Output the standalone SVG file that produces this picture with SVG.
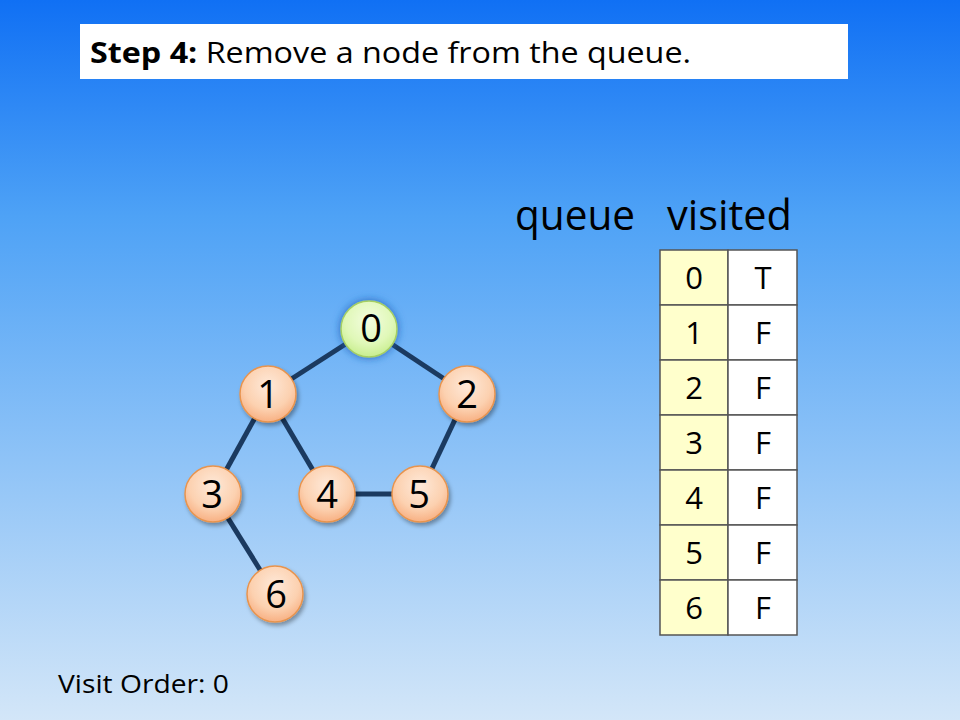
<svg xmlns="http://www.w3.org/2000/svg" width="960" height="720" viewBox="0 0 960 720">
<defs>
<linearGradient id="bg" x1="0" y1="0" x2="0" y2="1">
<stop offset="0" stop-color="#1070f4"/>
<stop offset="0.3" stop-color="#4ea2f6"/>
<stop offset="1" stop-color="#d3e6f8"/>
</linearGradient>
<radialGradient id="orange" cx="0.5" cy="0.35" r="0.7">
<stop offset="0" stop-color="#fee9d9"/>
<stop offset="0.6" stop-color="#fcd1b0"/>
<stop offset="1" stop-color="#f7a979"/>
</radialGradient>
<radialGradient id="green" cx="0.5" cy="0.35" r="0.7">
<stop offset="0" stop-color="#f3fde0"/>
<stop offset="0.6" stop-color="#e0f8b8"/>
<stop offset="1" stop-color="#c3ec86"/>
</radialGradient>
<filter id="shadow" x="-30%" y="-30%" width="160%" height="160%">
<feDropShadow dx="2" dy="3" stdDeviation="2" flood-color="#000" flood-opacity="0.35"/>
</filter>
<filter id="glow" x="-40%" y="-40%" width="180%" height="180%">
<feDropShadow dx="0" dy="0" stdDeviation="4" flood-color="#1f5fb8" flood-opacity="0.9"/>
</filter>
</defs>
<style>
.t{font-family:"Open Sans","Liberation Sans",sans-serif;fill:#000}
.edge{stroke:#1b3a60;stroke-width:5;stroke-linecap:butt}
.node{fill:url(#orange);stroke:#e8944e;stroke-width:1.5;filter:url(#shadow)}
.cur{fill:url(#green);stroke:#a5cf62;stroke-width:1.5;filter:url(#glow)}
.lbl{font-size:38px;text-anchor:middle}
.cell{stroke:#555;stroke-width:1.5}
.ct{font-size:31px;text-anchor:middle}
</style>
<rect x="0" y="0" width="960" height="720" fill="url(#bg)"/>
<g id="title">
<rect x="80" y="24" width="768" height="55" fill="#fff"/>
<text class="t" x="90" y="63" font-size="29" textLength="601" lengthAdjust="spacingAndGlyphs"><tspan font-weight="bold">Step 4:</tspan> Remove a node from the queue.</text>
</g>
<g id="connectors">
<line class="edge" x1="369" y1="329" x2="268" y2="394"/>
<line class="edge" x1="369" y1="329" x2="467" y2="394"/>
<line class="edge" x1="268" y1="394" x2="213" y2="494"/>
<line class="edge" x1="268" y1="394" x2="327" y2="494"/>
<line class="edge" x1="467" y1="394" x2="420" y2="494"/>
<line class="edge" x1="327" y1="494" x2="420" y2="494"/>
<line class="edge" x1="213" y1="494" x2="275" y2="594"/>
</g>
<g id="node0"><circle class="cur" cx="369" cy="329" r="28"/><text class="t lbl" x="371" y="342">0</text></g>
<g id="node1"><circle class="node" cx="268" cy="394" r="28"/><text class="t lbl" x="268" y="408">1</text></g>
<g id="node2"><circle class="node" cx="467" cy="394" r="28"/><text class="t lbl" x="467" y="408">2</text></g>
<g id="node3"><circle class="node" cx="213" cy="494" r="28"/><text class="t lbl" x="212" y="508">3</text></g>
<g id="node4"><circle class="node" cx="327" cy="494" r="28"/><text class="t lbl" x="327" y="508">4</text></g>
<g id="node5"><circle class="node" cx="420" cy="494" r="28"/><text class="t lbl" x="419" y="508">5</text></g>
<g id="node6"><circle class="node" cx="275" cy="594" r="28"/><text class="t lbl" x="276" y="608">6</text></g>
<g id="headers">
<text class="t" x="515" y="230" font-size="42" textLength="120" lengthAdjust="spacingAndGlyphs">queue</text>
<text class="t" x="667" y="230" font-size="42" textLength="125" lengthAdjust="spacingAndGlyphs">visited</text>
</g>
<g id="table">
<rect class="cell" x="660" y="250" width="68" height="55" fill="#ffffcc"/><rect class="cell" x="728" y="250" width="69" height="55" fill="#fff"/>
<rect class="cell" x="660" y="305" width="68" height="55" fill="#ffffcc"/><rect class="cell" x="728" y="305" width="69" height="55" fill="#fff"/>
<rect class="cell" x="660" y="360" width="68" height="55" fill="#ffffcc"/><rect class="cell" x="728" y="360" width="69" height="55" fill="#fff"/>
<rect class="cell" x="660" y="415" width="68" height="55" fill="#ffffcc"/><rect class="cell" x="728" y="415" width="69" height="55" fill="#fff"/>
<rect class="cell" x="660" y="470" width="68" height="55" fill="#ffffcc"/><rect class="cell" x="728" y="470" width="69" height="55" fill="#fff"/>
<rect class="cell" x="660" y="525" width="68" height="55" fill="#ffffcc"/><rect class="cell" x="728" y="525" width="69" height="55" fill="#fff"/>
<rect class="cell" x="660" y="580" width="68" height="55" fill="#ffffcc"/><rect class="cell" x="728" y="580" width="69" height="55" fill="#fff"/>
<text class="t ct" x="694" y="289">0</text><text class="t ct" x="763" y="289">T</text>
<text class="t ct" x="694" y="344">1</text><text class="t ct" x="763" y="344">F</text>
<text class="t ct" x="694" y="399">2</text><text class="t ct" x="763" y="399">F</text>
<text class="t ct" x="694" y="454">3</text><text class="t ct" x="763" y="454">F</text>
<text class="t ct" x="694" y="509">4</text><text class="t ct" x="763" y="509">F</text>
<text class="t ct" x="694" y="564">5</text><text class="t ct" x="763" y="564">F</text>
<text class="t ct" x="694" y="619">6</text><text class="t ct" x="763" y="619">F</text>
</g>
<g id="visit-order">
<text class="t" x="58" y="693" font-size="25" textLength="171" lengthAdjust="spacingAndGlyphs">Visit Order: 0</text>
</g>
</svg>
